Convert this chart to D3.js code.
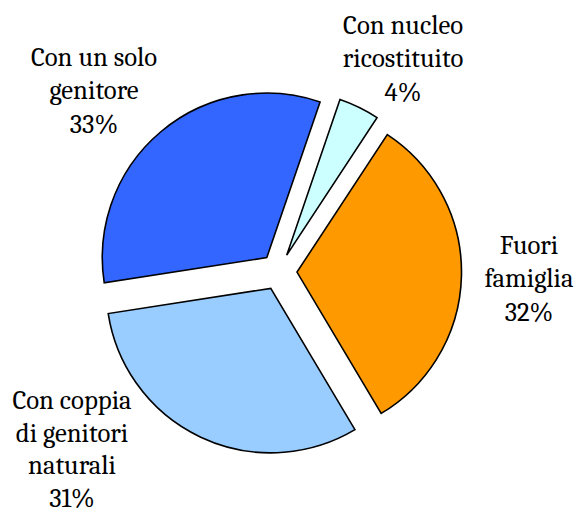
<!DOCTYPE html>
<html>
<head>
<meta charset="utf-8">
<script src="https://cdn.jsdelivr.net/npm/d3@7"></script>
<style>
  body { margin: 0; background: #fff; }
</style>
</head>
<body>
<div id="chart"></div>
<script>
// data (clockwise from the top)
var categories = ["Con nucleo|ricostituito", "Fuori|famiglia", "Con coppia|di genitori|naturali", "Con un solo|genitore"];
var values = [4.0, 32.2, 31.1, 32.7];
var colors = ["#CCFFFF", "#FF9900", "#99CCFF", "#3366FF"];

// set up SVG
var svgWidth = 578;
var svgHeight = 514;
var cx = 278.6, cy = 271.7;
var radius = 164.5;
var explode = 18.4;

// label block anchor (centre x, first baseline, line step)
var labelPos = [[403, 34, 33.3], [529, 254, 33.3], [72, 409, 32.6], [94, 66, 33.3]];

var svg = d3.select("#chart")
    .append("svg")
    .attr("width", svgWidth)
    .attr("height", svgHeight);

var chartGroup = svg.append("g")
    .attr("transform", `translate(${cx}, ${cy})`);

var data = categories.map(function (c, i) {
    return { name: c, value: values[i], color: colors[i], label: labelPos[i] };
});

var startAngle = 18.9 * Math.PI / 180;
var pie = d3.pie()
    .sort(null)
    .value(d => d.value)
    .startAngle(startAngle)
    .endAngle(startAngle + 2 * Math.PI);

var arc = d3.arc()
    .innerRadius(0)
    .outerRadius(radius);

var arcs = pie(data);

// slices, each pulled out along its mid angle
chartGroup.selectAll("path")
    .data(arcs)
    .enter()
    .append("path")
    .attr("transform", function (d) {
        var a = (d.startAngle + d.endAngle) / 2;
        return `translate(${explode * Math.sin(a)}, ${-explode * Math.cos(a)})`;
    })
    .attr("d", arc)
    .attr("fill", d => d.data.color)
    .attr("stroke", "#000")
    .attr("stroke-width", 1.6)
    .attr("stroke-linejoin", "miter");

// labels
var labels = svg.selectAll("text.label")
    .data(arcs)
    .enter()
    .append("text")
    .attr("class", "label")
    .attr("font-family", "Cambria, Caladea, 'Liberation Serif', serif")
    .attr("font-size", 26.7)
    .attr("fill", "#000")
    .attr("text-anchor", "middle");

labels.each(function (d) {
    var lines = d.data.name.split("|").concat([Math.round(d.data.value) + "%"]);
    var t = d3.select(this);
    lines.forEach(function (l, i) {
        t.append("tspan")
            .attr("x", d.data.label[0])
            .attr("y", d.data.label[1] + i * d.data.label[2])
            .text(l);
    });
});
</script>
</body>
</html>
